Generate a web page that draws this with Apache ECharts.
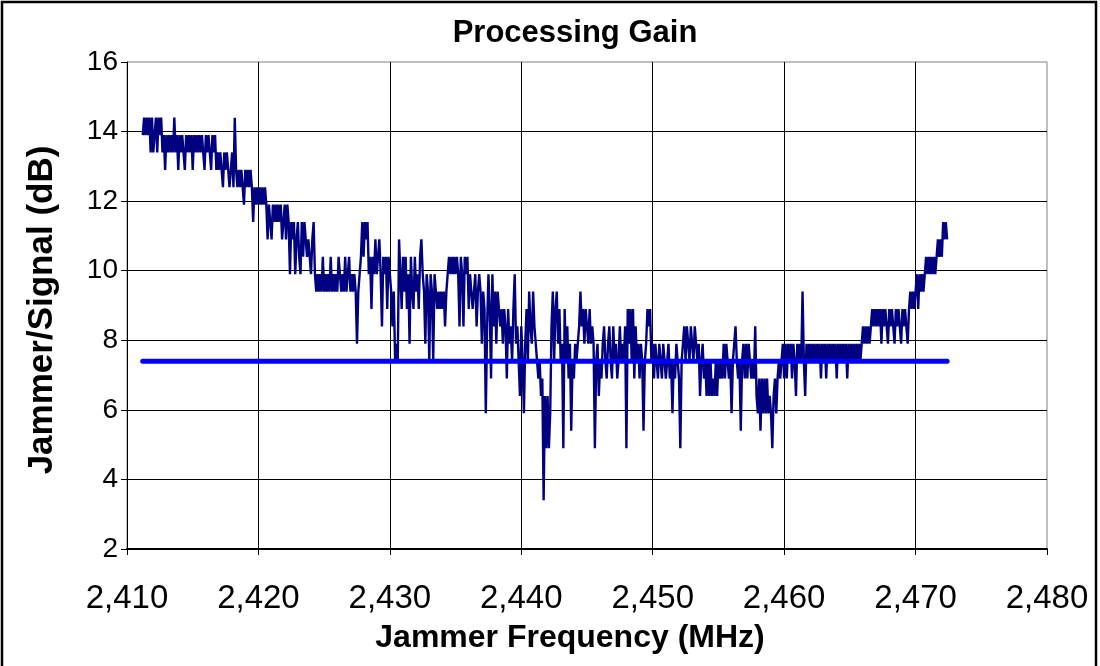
<!DOCTYPE html>
<html>
<head>
<meta charset="utf-8">
<script src="https://cdn.jsdelivr.net/npm/echarts@6/dist/echarts.min.js"></script>
<style>
html,body{margin:0;padding:0;background:#fff;}
#chart{width:1100px;height:666px;}
</style>
</head>
<body>
<div id="chart"></div>
<script>
// Sweep: jammer frequency (MHz) starts at 2411.2, one reading every 0.1 MHz
const startFreq = 2411.2;
const stepFreq = 0.1;
// Jammer/Signal (dB) readings, 20 per row (2 MHz per row)
const jammerSignal = [
  13.9,14.4,13.9,14.4,13.9,14.4,13.4,14.4,13.4,13.9, 14.4,13.4,14.4,13.9,14.4,13.4,13.9,12.9,13.9,13.4,
  13.9,13.4,13.9,13.4,14.4,13.4,13.9,12.9,13.9,13.4, 13.9,13.4,12.9,13.9,13.4,13.9,13.4,13.9,12.9,13.9,
  13.4,13.9,13.4,13.9,13.4,13.9,13.4,12.9,13.9,13.4, 13.9,13.4,12.9,13.9,13.4,13.9,12.9,13.4,12.9,13.4,
  12.9,12.4,13.4,12.9,13.4,12.9,12.4,12.9,13.4,12.4, 14.4,12.9,12.4,12.9,12.4,12.9,12.4,11.9,12.9,12.4,
  12.9,12.4,12.9,12.4,11.4,12.4,11.9,12.4,11.9,12.4, 11.9,12.4,11.9,12.4,11.9,10.9,11.9,11.4,10.9,11.9,
  11.4,11.9,11.4,11.9,11.4,11.9,10.9,11.4,11.9,10.9, 11.9,11.4,9.9,11.4,10.9,11.4,9.9,10.9,11.4,10.4,
  9.9,11.4,10.4,11.4,10.9,10.4,10.9,10.4,9.9,10.9, 11.4,9.9,9.4,9.9,9.4,9.9,9.4,10.4,9.4,9.9,
  9.4,9.9,9.4,10.4,9.4,9.9,9.4,9.9,9.4,10.4, 9.9,9.4,9.9,9.4,10.4,9.4,9.9,10.4,9.4,9.9,
  9.4,9.9,9.4,7.9,9.4,9.9,10.4,11.4,10.4,11.4, 10.9,11.4,9.9,10.4,8.9,10.4,9.9,10.9,9.9,10.4,
  10.9,9.9,8.4,10.4,9.9,10.4,8.9,10.4,9.9,9.4, 8.4,9.4,7.4,7.9,7.4,10.9,9.9,8.9,10.4,9.4,
  10.4,8.9,9.9,7.9,10.4,9.4,8.9,10.4,9.4,9.9, 8.9,10.4,10.9,9.9,9.4,7.9,9.9,9.4,7.4,9.9,
  9.4,7.4,9.9,9.4,8.9,9.4,8.9,9.4,8.9,9.4, 8.4,9.4,9.9,10.4,9.9,10.4,9.9,10.4,9.9,10.4,
  9.9,8.4,10.4,9.9,8.4,10.4,9.9,10.4,8.9,9.9, 9.4,8.9,9.4,9.9,8.4,9.4,9.9,9.4,7.9,9.4,
  8.9,5.9,8.4,9.9,8.9,6.9,9.9,8.4,9.4,7.9, 9.4,8.9,8.4,8.9,7.9,8.9,8.4,6.9,8.9,7.9,
  8.4,7.4,8.9,9.9,7.9,8.4,7.4,6.4,8.4,7.4, 5.9,7.9,8.9,7.4,9.4,8.4,7.9,9.4,8.4,7.9,
  7.4,6.9,7.4,6.4,6.9,3.4,6.4,4.9,6.4,4.9, 5.9,8.4,9.4,7.4,8.9,9.4,7.9,8.9,7.4,7.9,
  4.9,8.9,7.4,8.4,6.9,7.9,5.4,7.4,6.9,7.9, 7.4,7.9,8.4,9.4,8.4,8.9,7.9,8.9,8.4,7.9,
  8.9,7.9,8.4,7.9,4.9,7.4,7.9,6.4,7.4,6.9, 7.9,8.4,7.4,6.9,7.9,8.4,7.4,6.9,8.4,7.4,
  7.9,6.9,7.4,8.4,7.4,7.9,7.4,8.4,4.9,8.9, 7.9,8.9,7.4,8.9,6.9,8.4,7.4,7.9,6.9,7.9,
  7.4,5.4,7.4,7.9,8.9,8.4,8.9,7.4,7.9,6.9, 7.9,7.4,6.9,7.9,7.4,6.9,7.9,7.4,6.9,7.4,
  7.9,6.9,7.4,5.9,7.4,6.9,7.9,7.4,6.9,4.9, 7.4,7.9,8.4,7.4,8.4,7.9,7.4,8.4,7.9,7.4,
  8.4,7.9,7.4,7.9,6.4,7.4,7.9,6.9,7.4,6.4, 7.4,6.4,7.4,6.4,6.9,6.4,7.4,6.4,7.4,6.9,
  7.4,6.9,7.9,6.9,7.9,7.4,6.9,7.4,5.9,7.4, 7.9,8.4,7.4,6.9,7.4,5.4,7.4,7.9,6.9,7.9,
  6.9,7.9,7.4,6.9,7.4,6.9,8.4,6.4,5.9,6.9, 5.4,6.9,5.9,6.9,5.9,6.9,5.9,6.4,5.9,4.9,
  6.4,6.9,5.9,6.9,7.4,6.9,7.4,7.9,6.9,7.9, 6.9,7.9,7.4,7.9,6.9,7.9,7.4,6.4,7.9,7.4,
  7.9,7.4,9.4,7.4,6.4,7.9,7.4,7.9,7.4,7.9, 7.4,7.9,7.4,7.9,7.4,7.9,6.9,7.9,7.4,7.9,
  6.9,7.9,7.4,7.9,7.4,7.9,7.4,7.9,6.9,7.9, 7.4,7.9,7.4,7.9,7.4,7.9,6.9,7.9,7.4,7.9,
  7.4,7.9,7.4,7.9,7.4,7.9,7.4,7.9,8.4,7.9, 8.4,7.9,8.4,7.9,8.4,8.9,8.4,8.9,8.4,8.9,
  8.4,8.9,7.9,8.9,8.4,8.9,8.4,7.9,8.9,8.4, 8.9,8.4,7.9,8.9,8.4,8.9,8.4,7.9,8.9,8.4,
  8.9,8.4,7.9,8.9,9.4,8.9,9.4,8.9,9.4,9.9, 8.9,9.9,9.4,9.9,9.4,9.9,10.4,9.9,10.4,9.9,
  10.4,9.9,10.4,9.9,10.4,10.9,10.4,10.9,10.4,11.4, 10.9,11.4,10.9
];
// Reference (processing gain) level
const thresholdFreq = [2411.2, 2472.4];
const thresholdValue = 7.4;

const titleText = 'Processing Gain';
const xName = 'Jammer Frequency (MHz)';
const yName = 'Jammer/Signal (dB)';

const lineData = jammerSignal.map((v, i) => [+(startFreq + i * stepFreq).toFixed(1), v]);
const thresholdData = thresholdFreq.map(f => [f, thresholdValue]);

const chart = echarts.init(document.getElementById('chart'), null, {renderer: 'canvas'});
const FONT = '"Liberation Sans", Arial, sans-serif';
chart.setOption({
  animation: false,
  backgroundColor: '#ffffff',
  grid: {left: 127, right: 53, top: 62, bottom: 117, show: true, borderColor: '#808080', borderWidth: 1, backgroundColor: 'transparent'},
  xAxis: {
    type: 'value', min: 2410, max: 2480, interval: 10,
    axisLine: {show: true, lineStyle: {color: '#000', width: 2}},
    axisTick: {show: true, inside: false, length: 6, lineStyle: {color: '#000', width: 1}},
    axisLabel: {fontFamily: FONT, fontSize: 33, color: '#000', margin: 33,
      formatter: v => String(v).replace(/\B(?=(\d{3})+(?!\d))/g, ',')},
    splitLine: {show: true, showMinLine: false, showMaxLine: false, lineStyle: {color: '#000', width: 1}}
  },
  yAxis: {
    type: 'value', min: 2, max: 16, interval: 2,
    axisLine: {show: true, lineStyle: {color: '#000', width: 1}},
    axisTick: {show: true, inside: false, length: 6, lineStyle: {color: '#000', width: 1}},
    axisLabel: {fontFamily: FONT, fontSize: 28, color: '#000', margin: 9},
    splitLine: {show: true, showMinLine: false, showMaxLine: false, lineStyle: {color: '#000', width: 1}}
  },
  graphic: [{
    type: 'rect', shape: {x: 2, y: 2, width: 1094, height: 700},
    style: {fill: 'none', stroke: '#000', lineWidth: 2.5}, silent: true, z: 100
  }, {
    type: 'text', x: 575, y: 33, silent: true,
    style: {text: titleText, align: 'center', verticalAlign: 'middle',
      font: 'bold 31px "Liberation Sans", Arial, sans-serif', fill: '#000'}
  }, {
    type: 'text', x: 570, y: 638, silent: true,
    style: {text: xName, align: 'center', verticalAlign: 'middle',
      font: 'bold 32px "Liberation Sans", Arial, sans-serif', fill: '#000'}
  }, {
    type: 'text', x: 42, y: 310, rotation: Math.PI / 2, silent: true,
    style: {text: yName, align: 'center', verticalAlign: 'middle',
      font: 'bold 35px "Liberation Sans", Arial, sans-serif', fill: '#000'}
  }],
  series: [{
    name: 'Jammer/Signal', type: 'line', data: lineData,
    showSymbol: false, symbol: 'none', sampling: null,
    lineStyle: {color: '#000080', width: 2.4}, z: 3
  }, {
    name: 'Threshold', type: 'line', data: thresholdData,
    showSymbol: false, symbol: 'none',
    lineStyle: {color: '#0000ff', width: 5, cap: 'round'}, z: 4
  }]
});
</script>
</body>
</html>
